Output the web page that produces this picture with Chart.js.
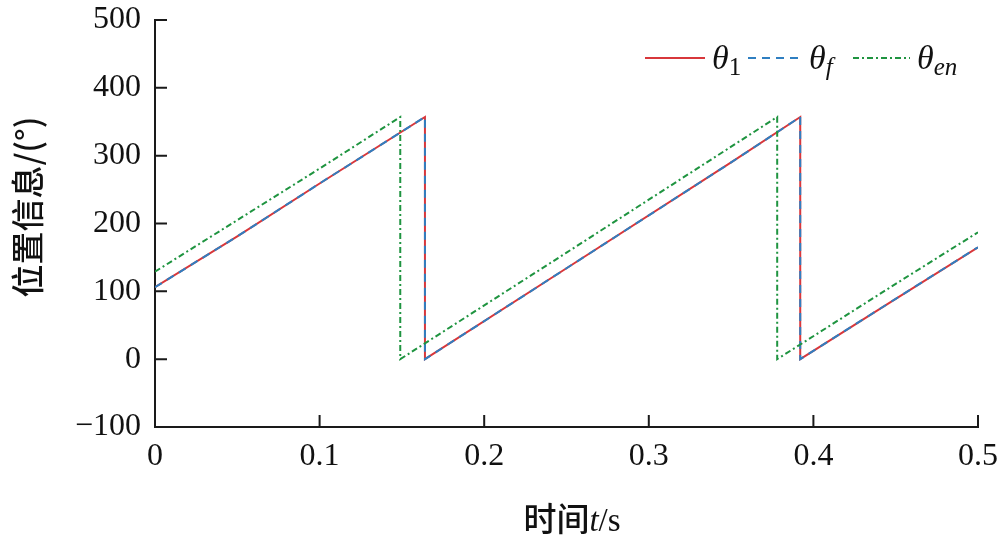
<!DOCTYPE html>
<html>
<head>
<meta charset="utf-8">
<title>位置信息</title>
<script src="https://cdn.jsdelivr.net/npm/chart.js@4"></script>
<style>
    html, body { margin: 0; padding: 0; background: #fff; }
    #wrap { width: 1000px; height: 541px; position: relative; }
</style>
</head>
<body>
<div id="wrap"><canvas id="posChart"></canvas></div>
<script>
// values
const timeTheta1 = [0, 0.05, 0.1, 0.164, 0.164, 0.25, 0.35, 0.392, 0.392, 0.45, 0.5];
const theta1 = [106, 181, 259, 357, 0, 134, 290, 357, 0, 89, 165];
const timeThetaF = [0, 0.05, 0.1, 0.164, 0.164, 0.25, 0.35, 0.392, 0.392, 0.45, 0.5];
const thetaF = [106, 181, 259, 357, 0, 134, 290, 357, 0, 89, 165];
const timeThetaEn = [0, 0.05, 0.1, 0.149, 0.149, 0.25, 0.378, 0.378, 0.45, 0.5];
const thetaEn = [129, 205, 281, 357, 0, 157, 357, 0, 111, 187];
const xTickLabels = ['0', '0.1', '0.2', '0.3', '0.4', '0.5'];
const yTickLabels = ['\u2212100', '0', '100', '200', '300', '400', '500'];

const RED = '#d8373b';
const BLUE = '#2f7fc1';
const GREEN = '#1f9440';
const AXIS = '#1a1a1a';
const SERIF = '"Liberation Serif", "DejaVu Serif", serif';
const CJK = '"Noto Sans CJK SC", sans-serif';

function toPoints(xs, ys) {
    return xs.map((x, i) => ({ x: x, y: ys[i] }));
}

// inward ticks, axis titles and the legend (needs italics and subscripts)
const decorPlugin = {
    id: 'decor',
    afterDraw(chart) {
        const ctx = chart.ctx;
        const area = chart.chartArea;
        const xs = chart.scales.x;
        const ys = chart.scales.y;
        ctx.save();

        // ticks pointing into the plot
        ctx.strokeStyle = AXIS;
        ctx.lineWidth = 2;
        ctx.beginPath();
        xs.ticks.forEach(t => {
            const px = xs.getPixelForValue(t.value);
            ctx.moveTo(px, area.bottom);
            ctx.lineTo(px, area.bottom - 12);
        });
        ys.ticks.forEach(t => {
            const py = ys.getPixelForValue(t.value);
            ctx.moveTo(area.left, py);
            ctx.lineTo(area.left + 12, py);
        });
        ctx.stroke();

        ctx.fillStyle = '#111';

        // y title
        ctx.save();
        ctx.translate(27, 207);
        ctx.rotate(-Math.PI / 2);
        ctx.font = '500 33px ' + CJK;
        ctx.textAlign = 'center';
        ctx.textBaseline = 'middle';
        ctx.fillText('位置信息/(°)', 0, 0);
        ctx.restore();

        // x title: 时间t/s
        const parts = [
            { s: '时间', f: '500 33px ' + CJK },
            { s: 't', f: 'italic 33px ' + SERIF },
            { s: '/s', f: '33px ' + SERIF }
        ];
        let total = 0;
        parts.forEach(p => { ctx.font = p.f; p.w = ctx.measureText(p.s).width; total += p.w; });
        let cx = 572 - total / 2;
        ctx.textBaseline = 'alphabetic';
        ctx.textAlign = 'left';
        parts.forEach(p => { ctx.font = p.f; ctx.fillText(p.s, cx, 531); cx += p.w; });

        // legend
        const ly = 58;
        const items = [
            { x0: 645, x1: 705, color: RED, dash: [], sub: '1', subItalic: false },
            { x0: 748, x1: 802, color: BLUE, dash: [8, 6], sub: 'f', subItalic: true },
            { x0: 853, x1: 910, color: GREEN, dash: [6, 3, 2, 3], sub: 'en', subItalic: true }
        ];
        items.forEach(it => {
            ctx.strokeStyle = it.color;
            ctx.lineWidth = 2;
            ctx.setLineDash(it.dash);
            ctx.beginPath();
            ctx.moveTo(it.x0, ly);
            ctx.lineTo(it.x1, ly);
            ctx.stroke();
            ctx.setLineDash([]);
            ctx.font = 'italic 34px ' + SERIF;
            const tx = it.x1 + 7;
            ctx.fillText('\u03b8', tx, ly + 11);
            const tw = ctx.measureText('\u03b8').width;
            ctx.font = (it.subItalic ? 'italic ' : '') + '25px ' + SERIF;
            ctx.fillText(it.sub, tx + tw, ly + 17);
        });

        ctx.restore();
    }
};

const ctx = document.getElementById('posChart').getContext('2d');
const posChart = new Chart(ctx, {
    type: 'line',
    data: {
        datasets: [
            {
                label: 'θ1',
                data: toPoints(timeTheta1, theta1),
                borderColor: RED,
                borderWidth: 2,
                pointRadius: 0,
                tension: 0,
                order: 2
            },
            {
                label: 'θf',
                data: toPoints(timeThetaF, thetaF),
                borderColor: BLUE,
                borderWidth: 2,
                borderDash: [8, 6],
                pointRadius: 0,
                tension: 0,
                order: 1
            },
            {
                label: 'θen',
                data: toPoints(timeThetaEn, thetaEn),
                borderColor: GREEN,
                borderWidth: 2,
                borderDash: [6, 3, 2, 3],
                pointRadius: 0,
                tension: 0,
                order: 0
            }
        ]
    },
    options: {
        responsive: true,
        maintainAspectRatio: false,
        animation: false,
        layout: { padding: { top: 20, right: 22, left: 0, bottom: 0 } },
        plugins: {
            legend: { display: false },
            tooltip: { enabled: false }
        },
        scales: {
            x: {
                type: 'linear',
                min: 0,
                max: 0.5,
                afterFit: s => {
                    s.height = 114;
                    s.paddingLeft = 0;
                    s.paddingRight = 0;
                },
                border: { display: true, color: AXIS, width: 2 },
                grid: { display: true, drawOnChartArea: false, drawTicks: false },
                ticks: {
                    stepSize: 0.1,
                    padding: 10,
                    color: '#111',
                    font: { family: SERIF, size: 32 },
                    maxRotation: 0,
                    callback: (v, i) => xTickLabels[i]
                }
            },
            y: {
                min: -100,
                max: 500,
                afterFit: s => {
                    s.width = 155;
                    s.paddingTop = 0;
                    s.paddingBottom = 0;
                },
                border: { display: true, color: AXIS, width: 2 },
                grid: { display: true, drawOnChartArea: false, drawTicks: false },
                ticks: {
                    stepSize: 100,
                    padding: 14,
                    color: '#111',
                    font: { family: SERIF, size: 32 },
                    callback: v => yTickLabels[Math.round((v + 100) / 100)]
                }
            }
        }
    },
    plugins: [decorPlugin]
});
</script>
</body>
</html>
